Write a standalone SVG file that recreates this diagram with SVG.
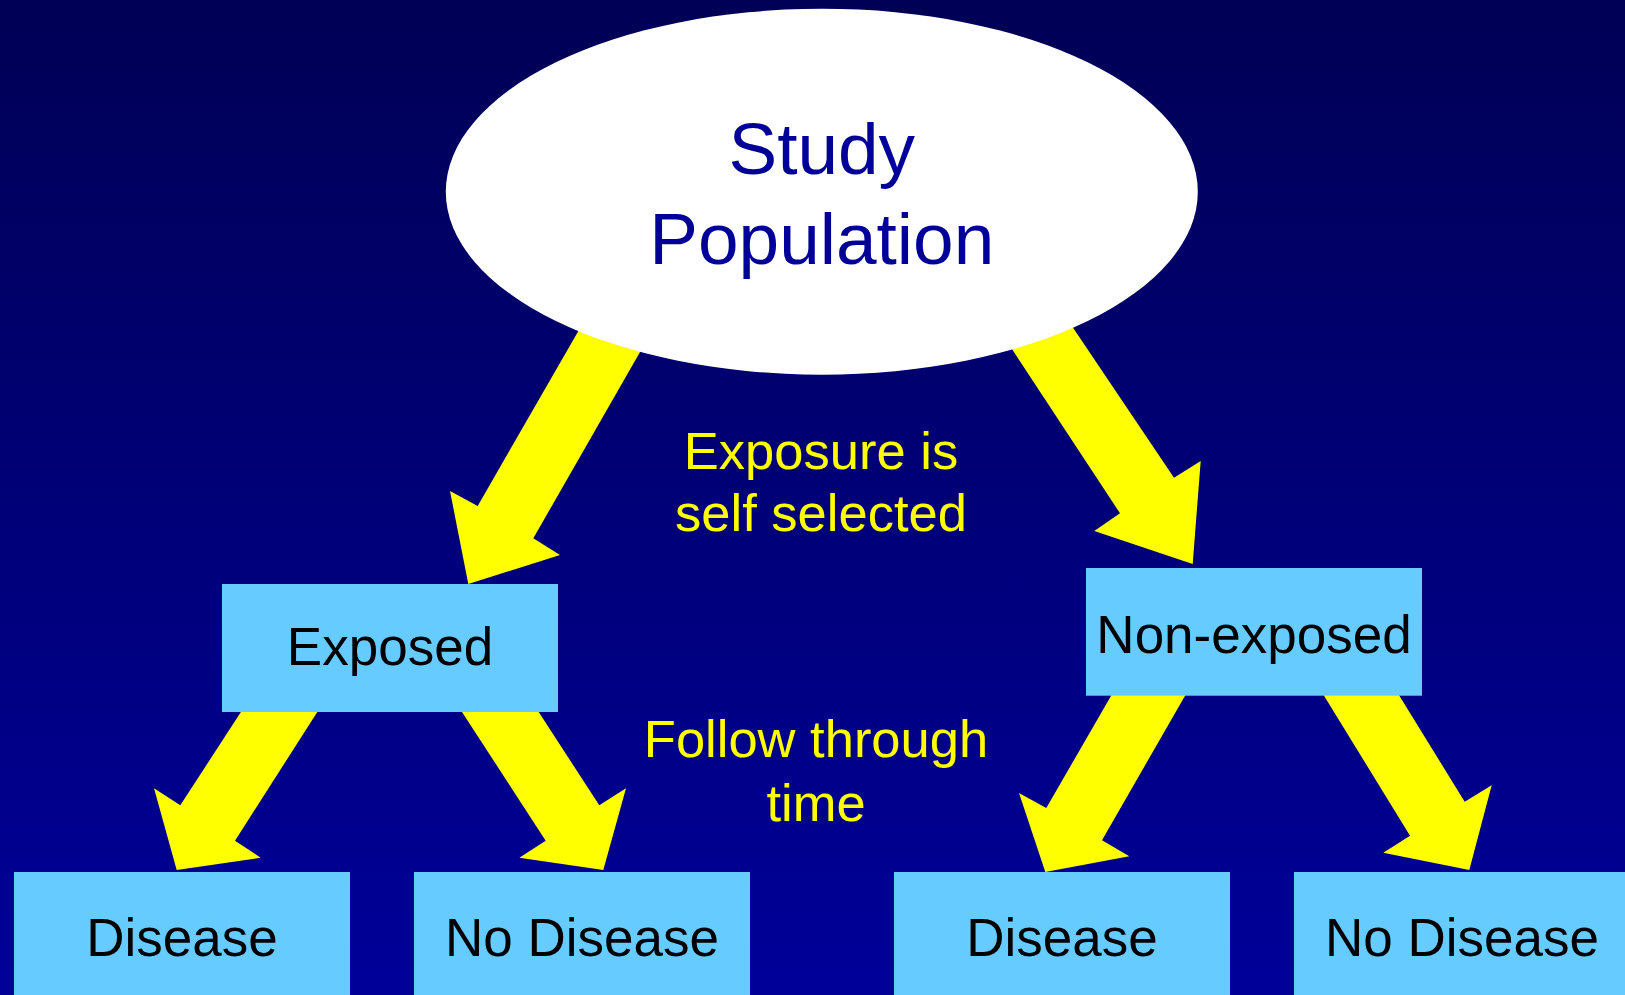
<svg xmlns="http://www.w3.org/2000/svg" width="1625" height="995" viewBox="0 0 1625 995">
<defs>
<linearGradient id="bg" x1="0" y1="0" x2="0" y2="1">
<stop offset="0" stop-color="#000055"/>
<stop offset="1" stop-color="#000099"/>
</linearGradient>
<style>
.arrow{fill:#FFFF00;stroke:none}
.box{fill:#66CCFF;stroke:none}
.lbl{font-family:"Liberation Sans",Arial,sans-serif;font-size:53px;fill:#000000;text-anchor:middle}
.note{font-family:"Liberation Sans",Arial,sans-serif;font-size:52.5px;fill:#FFFF00;text-anchor:middle}
.title{font-family:"Liberation Sans",Arial,sans-serif;font-size:73px;fill:#000099;text-anchor:middle}
</style>
</defs>
<rect x="0" y="0" width="1625" height="995" fill="url(#bg)"/>
<g id="connectors">
<polygon class="arrow" points="587.6,315 649.2,336 533.3,538.3 560,555 468.3,584 450,491 477.7,506"/>
<polygon class="arrow" points="1062.8,312.4 1002.1,334.1 1120,513.3 1094.3,531 1192.7,564 1200.7,461 1174,477.7"/>
<polygon class="arrow" points="248.7,700 325,700 235,840.7 260.7,857.7 176.7,870 154,788.3 180.3,805.3"/>
<polygon class="arrow" points="454.2,700 530.9,700 599.3,805.3 626,788.3 603.3,870 519.3,857.7 545.7,840.7"/>
<polygon class="arrow" points="1117.9,684 1191.8,684 1102,840.3 1129.3,856.3 1045.3,872 1019,793 1046.3,808"/>
<polygon class="arrow" points="1316.8,684 1392.1,684 1464.7,801.7 1491.7,785.3 1469.3,870 1383.3,852.7 1410,835.7"/>
</g>
<g id="study-population">
<ellipse cx="821.8" cy="191.7" rx="376" ry="183" fill="#FFFFFF"/>
<text class="title" x="821.8" y="174">Study</text>
<text class="title" x="821.8" y="264.3">Population</text>
</g>
<g id="exposure-note">
<text class="note" x="821" y="469.3">Exposure is</text>
<text class="note" x="821" y="531">self selected</text>
</g>
<g id="follow-note">
<text class="note" x="816" y="756.7">Follow through</text>
<text class="note" x="816" y="820.7">time</text>
</g>
<g id="exposed">
<rect class="box" x="222" y="584" width="336" height="128"/>
<text class="lbl" x="390" y="665">Exposed</text>
</g>
<g id="non-exposed">
<rect class="box" x="1086" y="568" width="336" height="127.7"/>
<text class="lbl" x="1254" y="652.7">Non-exposed</text>
</g>
<g id="exposed-disease">
<rect class="box" x="14" y="872" width="336" height="128"/>
<text class="lbl" x="182" y="956">Disease</text>
</g>
<g id="exposed-no-disease">
<rect class="box" x="414" y="872" width="336" height="128"/>
<text class="lbl" x="582" y="956">No Disease</text>
</g>
<g id="nonexposed-disease">
<rect class="box" x="894" y="872" width="336" height="128"/>
<text class="lbl" x="1062" y="956">Disease</text>
</g>
<g id="nonexposed-no-disease">
<rect class="box" x="1294" y="872" width="336" height="128"/>
<text class="lbl" x="1462" y="956">No Disease</text>
</g>
</svg>
